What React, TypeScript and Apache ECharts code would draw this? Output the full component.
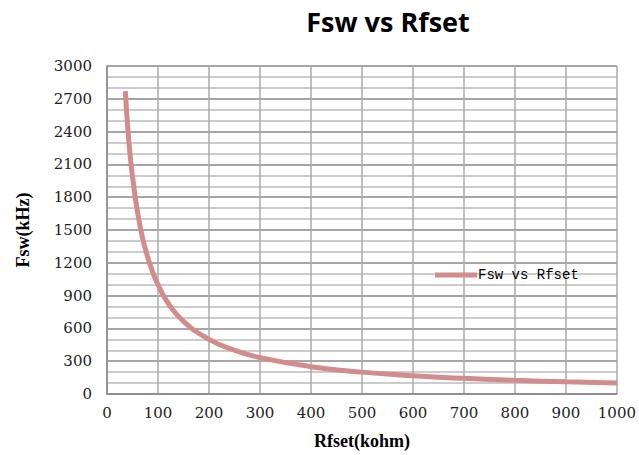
import React, { useEffect, useRef } from "react";
import * as echarts from "echarts";

const rfset = [36, 40, 45, 50, 60, 70, 80, 90, 100, 120, 150, 200, 250, 300, 400, 500, 600, 700, 800, 900, 1000];
const fsw = [2770, 2480, 2200, 1990, 1660, 1420, 1250, 1110, 1000, 830, 665, 500, 400, 333, 250, 200, 167, 143, 125, 111, 100];
const seriesName = "Fsw vs Rfset";

export default function App() {
  const ref = useRef<HTMLDivElement>(null);
  useEffect(() => {
    const chart = echarts.init(ref.current!, null, { renderer: "svg" });
    chart.setOption({
      animation: false,
      backgroundColor: "#ffffff",
      title: {
        text: "Fsw vs Rfset",
        left: 383,
        top: 3,
        textAlign: "center",
        textStyle: { fontFamily: "Open Sans", fontWeight: "bold", fontSize: 27, color: "#000" },
      },
      legend: {
        left: 430,
        top: 263,
        itemWidth: 42,
        itemHeight: 14,
        icon: "path://M0,0 L42,0 L42,5 L0,5 Z",
        data: [seriesName],
        textStyle: { fontFamily: "Liberation Mono", fontSize: 14, color: "#000", padding: [0, 0, 0, -4] },
      },
      grid: { left: 107, right: 21, top: 66, bottom: 59 },
      xAxis: {
        type: "value",
        min: 0,
        max: 1000,
        interval: 100,
        name: "Rfset(kohm)",
        nameLocation: "middle",
        nameGap: 38,
        nameTextStyle: { fontFamily: "Liberation Serif", fontWeight: "bold", fontSize: 18, color: "#000" },
        axisLine: { lineStyle: { color: "#888", width: 1.5 } },
        axisTick: { show: false },
        axisLabel: {
          fontFamily: "DejaVu Serif",
          fontSize: 15,
          color: "#222",
          margin: 11,
          formatter: (v: number) => String(v),
        },
        splitLine: { show: true, lineStyle: { color: "#aaa", width: 1.5 } },
      },
      yAxis: {
        type: "value",
        min: 0,
        max: 3000,
        interval: 300,
        name: "Fsw(kHz)",
        nameLocation: "middle",
        nameGap: 75,
        nameRotate: 90,
        nameTextStyle: { fontFamily: "Liberation Serif", fontWeight: "bold", fontSize: 18, color: "#000" },
        axisLine: { show: true, lineStyle: { color: "#888", width: 1.5 } },
        axisTick: { show: false },
        axisLabel: {
          fontFamily: "DejaVu Serif",
          fontSize: 15,
          color: "#222",
          margin: 15,
          formatter: (v: number) => String(v),
        },
        splitLine: { show: true, lineStyle: { color: "#888", width: 1.5 } },
        minorTick: { show: false, splitNumber: 3 },
        minorSplitLine: { show: true, lineStyle: { color: "#bbb", width: 1.5 } },
      },
      series: [
        {
          name: seriesName,
          type: "line",
          smooth: true,
          symbol: "none",
          data: rfset.map((r, i) => [r, fsw[i]]),
          lineStyle: { color: "#D28C8C", width: 5 },
          itemStyle: { color: "#D28C8C" },
        },
      ],
    });
    return () => chart.dispose();
  }, []);
  return <div ref={ref} style={{ width: 639, height: 455, position: "absolute", left: 0, top: 0 }} />;
}
